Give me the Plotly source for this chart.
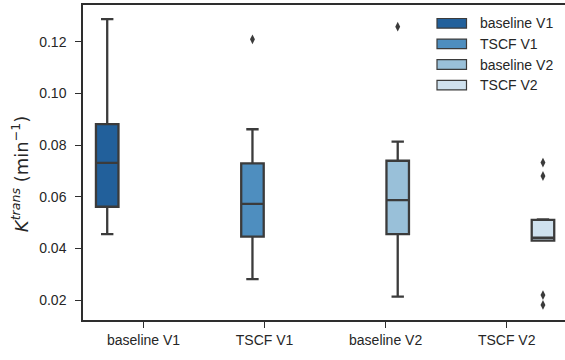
import plotly.graph_objects as go

categories = ["baseline V1", "TSCF V1", "baseline V2", "TSCF V2"]
colors = ["#22609b", "#4e8ebf", "#99c0d9", "#cfe1ee"]
q1 = [0.0561, 0.0445, 0.0455, 0.0430]
median = [0.0731, 0.0572, 0.0587, 0.0441]
q3 = [0.0881, 0.0729, 0.0739, 0.0510]
lower_whisker = [0.0455, 0.0281, 0.0213, 0.0430]
upper_whisker = [0.1287, 0.0861, 0.0813, 0.0512]
outliers = [[], [0.1209], [0.1258], [0.0732, 0.0680, 0.0219, 0.0181]]
yticks = [0.02, 0.04, 0.06, 0.08, 0.10, 0.12]

n = len(categories)
slot = 0.8 / n
edge = "#3b3b3b"
axis_col = "#2e2e2e"
font = dict(family="Liberation Sans, Arial, sans-serif", size=14, color="#262626")
title_font = dict(family="DejaVu Sans, sans-serif", size=18, color="#262626")

fig = go.Figure()
for i, cat in enumerate(categories):
    pos = i - 0.4 + slot * (i + 0.5)
    fig.add_trace(go.Box(
        x=[pos], q1=[q1[i]], median=[median[i]], q3=[q3[i]],
        lowerfence=[lower_whisker[i]], upperfence=[upper_whisker[i]],
        width=slot * 0.93, whiskerwidth=0.55,
        fillcolor=colors[i], line=dict(color=edge, width=2.3),
        boxpoints=False, showlegend=False, name=cat, hoverinfo="skip",
    ))
    if outliers[i]:
        fig.add_trace(go.Scatter(
            x=[pos] * len(outliers[i]), y=outliers[i], mode="markers",
            marker=dict(symbol="diamond-tall", size=7, color=edge),
            showlegend=False, hoverinfo="skip",
        ))

W, H = 565, 360
L, R, T, B = 83, 0, 5, 40
pw, ph = W - L - R, H - T - B

def px(x):
    return (x - L) / pw

def py(y):
    return 1 - (y - T) / ph

shapes, annotations = [], []
row_y = [23.3, 43.9, 64.5, 85.1]
for i, cat in enumerate(categories):
    yc = row_y[i]
    shapes.append(dict(type="rect", xref="paper", yref="paper",
                       x0=px(437), x1=px(466.5), y0=py(yc + 4.8), y1=py(yc - 4.8),
                       fillcolor=colors[i], line=dict(color=edge, width=1.2)))
    annotations.append(dict(xref="paper", yref="paper", x=px(478), y=py(yc),
                            xanchor="left", yanchor="middle", text=cat,
                            showarrow=False, font=font))

fig.update_layout(
    width=W, height=H, margin=dict(l=L, r=R, t=T, b=B, pad=0),
    plot_bgcolor="white", paper_bgcolor="white", font=font,
    shapes=shapes, annotations=annotations,
    xaxis=dict(range=[-0.5, 3.482], tickvals=list(range(n)), ticktext=categories,
               showgrid=False, zeroline=False, showline=True, mirror=True,
               linecolor=axis_col, linewidth=1.5, ticks="outside", ticklen=6,
               tickwidth=1.3, tickcolor=axis_col, tickfont=font),
    yaxis=dict(range=[0.01226, 0.1342], tickvals=yticks,
               ticktext=[f"{v:.2f}" for v in yticks],
               showgrid=False, zeroline=False, showline=True,
               linecolor=axis_col, linewidth=1.5, ticks="outside", ticklen=6,
               tickwidth=1.3, tickcolor=axis_col, tickfont=font,
               ticklabelstandoff=6,
               title=dict(text="<i>K</i><sup><i>trans</i></sup> (min<sup>−1</sup>)&nbsp;&nbsp;&nbsp;&nbsp;",
                          font=title_font, standoff=6)),
)
fig.write_html("out.html")
